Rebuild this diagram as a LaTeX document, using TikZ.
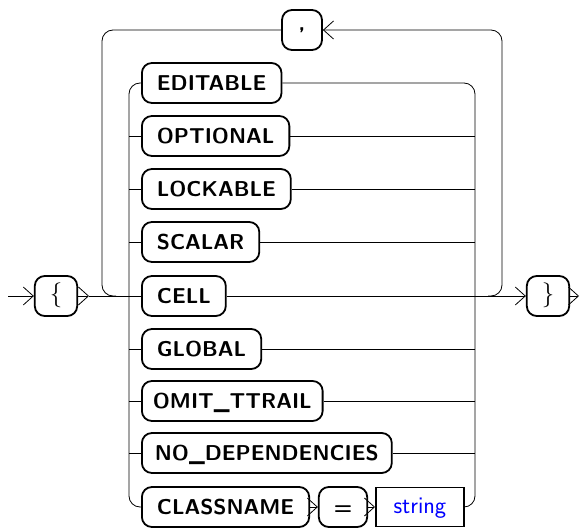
\documentclass[tikz,border=0pt]{standalone}
\usetikzlibrary{arrows.meta}
\begin{document}
\begin{tikzpicture}[x=1pt,y=-1pt,
 term/.style={draw, line width=1.8pt, rounded corners=10pt, minimum height=40pt, minimum width=40pt, inner xsep=15pt,
   font=\fontsize{21.5}{26}\selectfont\sffamily\bfseries, text height=15.5pt, text depth=0pt},
 ntbox/.style={draw, line width=1.8pt, minimum height=39pt, minimum width=88pt,
   font=\fontsize{24}{28}\selectfont\sffamily, text=blue, text height=16pt, text depth=4pt},
 conn/.style={line width=0.8pt},
 arr/.style={conn, -{Straight Barb[length=10pt,width=18pt]}},
 rc/.style={rounded corners=11pt}]
\useasboundingbox (0,0) rectangle (581,529);
% terminals
\node[term, text height=17pt, text depth=6pt, font=\fontsize{24}{28}\selectfont] (lb) at (56,296) {$\{$};
\node[term, text height=17pt, text depth=6pt, font=\fontsize{24}{28}\selectfont] (rb) at (548,296) {$\}$};
\node[term] (comma) at (302,30) {\raisebox{7pt}{,}};
\node[term, anchor=west] (ed) at (141,83) {EDITABLE};
\node[term, anchor=west] (op) at (141,136) {OPTIONAL};
\node[term, anchor=west] (lk) at (141,189) {LOCKABLE};
\node[term, anchor=west] (sc) at (141,242) {SCALAR};
\node[term, anchor=west] (ce) at (141,296) {CELL};
\node[term, anchor=west] (gl) at (141,349) {GLOBAL};
\node[term, anchor=west, inner xsep=11pt] (om) at (141,401) {OMIT\_TTRAIL};
\node[term, anchor=west, inner xsep=13pt] (nd) at (141,453) {NO\_DEPENDENCIES};
\node[term, anchor=west] (cn) at (141,507) {CLASSNAME};
\node[term] (eq) at (343,507) {=};
\node[ntbox, anchor=west] (str) at (375,507) {string};
% helper coordinates
\coordinate (st) at (8,296);
\coordinate (a1) at (89,296);
\coordinate (en) at (579,296);
\coordinate (cl) at (129,296);
\coordinate (cr) at (475,296);
\coordinate (ol) at (102,296);
\coordinate (or) at (502,296);
% main line
\draw[arr] (st) -- (lb.west);
\draw[arr] (lb.east) -- (a1);
\draw[conn] (a1) -- (ce.west);
\draw[arr] (ce.east) -- (rb.west);
\draw[arr] (rb.east) -- (en);
% choice left
\draw[conn, rc] (ed.west) -- (ed.west -| cl) -- (cn.west -| cl) -- (cn.west);
\foreach \n in {op,lk,sc,gl,om,nd} \draw[conn] (\n.west -| cl) -- (\n.west);
% choice right
\draw[conn, rc] (ed.east) -- (ed.east -| cr) -- (str.east -| cr) -- (str.east);
\foreach \n in {op,lk,sc,gl,om,nd} \draw[conn] (\n.east) -- (\n.east -| cr);
% classname sequence
\draw[arr] (cn.east) -- (eq.west);
\draw[arr] (eq.east) -- (str.west);
% repetition loop
\draw[conn, rc] (comma.west) -- (comma.west -| ol) -- (ol) -- ([xshift=14pt]ol);
\draw[arr, rc] ([xshift=-14pt]or) -- (or) -- (or |- comma.east) -- (comma.east);
\end{tikzpicture}
\end{document}
